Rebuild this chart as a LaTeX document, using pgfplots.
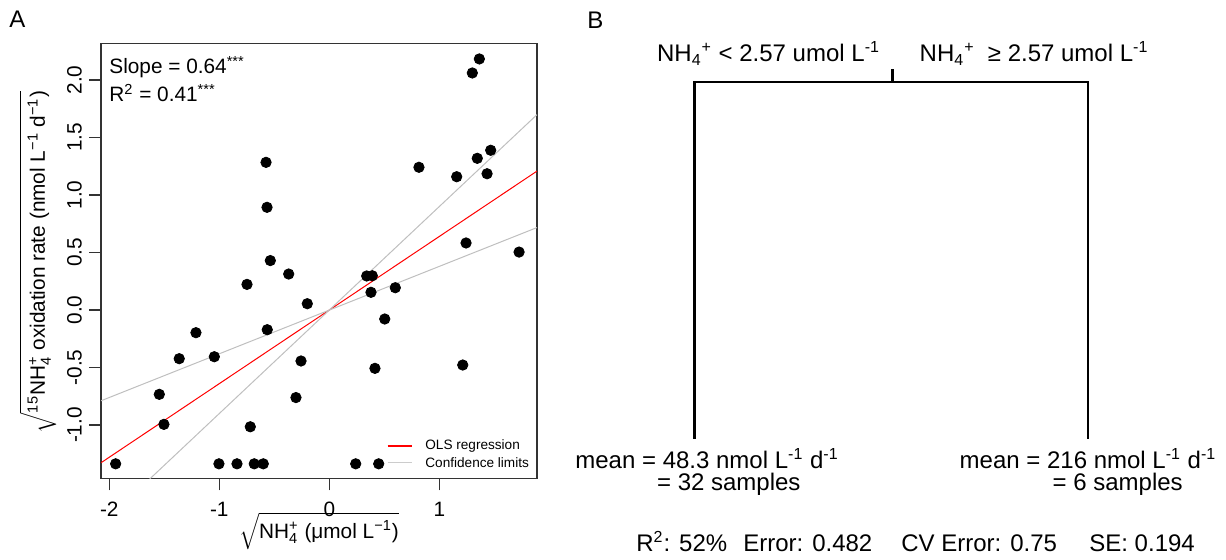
\documentclass[border=0pt]{standalone}
\usepackage{fontspec}
\setmainfont{Liberation Sans}
\usepackage{amsmath}
\usepackage{pgfplots}
\usepackage{pgfplotstable}
\pgfplotsset{compat=1.18}

\pgfplotstableread{
x y
-0.575 1.284
-0.566 0.893
-0.536 0.430
1.364 2.183
1.300 2.061
0.815 1.241
1.158 1.159
1.345 1.319
1.467 1.389
1.434 1.185
1.243 0.583
1.725 0.504
-0.369 0.313
-0.748 0.223
-1.212 -0.197
-0.564 -0.171
-1.364 -0.423
-1.045 -0.406
-1.545 -0.733
-1.503 -0.994
-0.718 -1.015
-1.942 -1.337
-1.003 -1.337
-0.839 -1.337
-0.682 -1.337
-0.600 -1.337
-0.257 -0.443
-0.303 -0.761
0.340 0.296
0.391 0.298
0.379 0.154
0.600 0.194
-0.200 0.055
0.504 -0.078
0.415 -0.507
1.213 -0.478
0.240 -1.337
0.449 -1.337
}\pts

\newcommand{\fA}{\fontsize{10.4}{12.5}\selectfont}
\newcommand{\fB}{\fontsize{12}{14}\selectfont}
\newcommand{\fL}{\fontsize{6.8}{8}\selectfont}

\begin{document}
\begin{tikzpicture}
\useasboundingbox (0,0) rectangle (613pt,279.5pt);
% ---------------- Panel A ----------------
\begin{axis}[
  at={(50.5pt,40.35pt)}, anchor=south west,
  scale only axis, width=218pt, height=217.5pt,
  xmin=-2.075, xmax=1.888, ymin=-1.463, ymax=2.319,
  xtick={-2,-1,0,1},
  ytick={-1,-0.5,0,0.5,1,1.5,2},
  tick align=outside, major tick length=6pt,
  xtick pos=bottom, ytick pos=left,
  axis line style={line width=0.6pt, black!80},
  every tick/.style={line width=0.6pt, black!80},
  /pgf/number format/assume math mode=true,
  tick label style={font=\fA},
  xticklabel style={yshift=-2.5pt},
  yticklabel style={rotate=90, anchor=south,
    /pgf/number format/.cd, fixed, fixed zerofill, precision=1, /tikz/.cd},
]
\addplot[only marks, mark=*, mark size=2.6pt, black] table {\pts};
\addplot[red, line width=0.5pt] coordinates {(-2.075,-1.328) (1.888,1.208)};
\addplot[gray!50, line width=0.5pt] coordinates {(-2.075,-1.8675) (1.888,1.699)};
\addplot[gray!50, line width=0.5pt] coordinates {(-2.075,-0.789) (1.888,0.717)};
\end{axis}
% ---------------- overlay in pixel coordinates / Panel B ----------------
\begin{axis}[
  at={(0pt,0pt)}, anchor=south west,
  scale only axis, width=613pt, height=279.5pt,
  xmin=0, xmax=1226, ymin=0, ymax=559, y dir=reverse,
  hide axis, clip=false,
]
% legend of panel A
\addplot[color=red, line width=0.8pt] coordinates {(387.7,445.7) (412.3,445.7)};
\addplot[color=gray!40, line width=0.8pt] coordinates {(387.7,462.3) (412.3,462.3)};
\node[anchor=west, font=\fL, inner sep=0pt] at (axis cs:425,445.7) {OLS regression};
\node[anchor=west, font=\fL, inner sep=0pt] at (axis cs:425,462.3) {Confidence limits};
% panel A annotations
\node[anchor=base west, font=\fA, inner sep=0pt] at (axis cs:109,73.3) {Slope = 0.64$^{\text{***}}$};
\node[anchor=base west, font=\fA, inner sep=0pt] at (axis cs:109,101.7) {R$^{\text{2}}$ = 0.41$^{\text{***}}$};
\node[anchor=base, font=\fA, inner sep=0pt] at (axis cs:319,538) {$\sqrt{\text{NH$_{\text{4}}^{\text{+}}$ (μmol L$^{\text{−1}}$)}}$};
\node[anchor=base, rotate=90, font=\fA, inner sep=0pt] at (axis cs:45,262) {$\sqrt{\text{$^{\text{15}}$NH$_{\text{4}}^{\text{+}}$ oxidation rate (nmol L$^{\text{−1}}$ d$^{\text{−1}}$)}}$};
% panel letters
\node[anchor=base west, font=\fB, inner sep=0pt] at (axis cs:9,27) {A};
\node[anchor=base west, font=\fB, inner sep=0pt] at (axis cs:587,28) {B};
% tree
\addplot[black, line width=1.2pt] coordinates {(694.3,438.5) (694.3,81.7) (1088,81.7) (1088,439)};
\addplot[black, line width=1.2pt] coordinates {(892.3,69) (892.3,81.7)};
\node[anchor=base west, font=\fB, inner sep=0pt] at (axis cs:656.7,61.7) {NH$_{\text{4}}$$^{\text{+}}$ < 2.57 umol L$^{\text{-1}}$};
\node[anchor=base west, font=\fB, inner sep=0pt] at (axis cs:919.3,61.7) {NH$_{\text{4}}$$^{\text{+}}$\ \ ≥ 2.57 umol L$^{\text{-1}}$};
\node[anchor=base west, font=\fB, inner sep=0pt] at (axis cs:575,468.3) {mean = 48.3 nmol L$^{\text{-1}}$ d$^{\text{-1}}$};
\node[anchor=base west, font=\fB, inner sep=0pt] at (axis cs:656.7,490) {= 32 samples};
\node[anchor=base west, font=\fB, inner sep=0pt] at (axis cs:959.3,468.3) {mean = 216 nmol L$^{\text{-1}}$ d$^{\text{-1}}$};
\node[anchor=base west, font=\fB, inner sep=0pt] at (axis cs:1052.3,490) {= 6 samples};
% summary line
\node[anchor=base west, font=\fB, inner sep=0pt] at (axis cs:636,551) {R$^{\text{2}}$: 52\%};
\node[anchor=base west, font=\fB, inner sep=0pt] at (axis cs:743,551) {Error: 0.482};
\node[anchor=base west, font=\fB, inner sep=0pt] at (axis cs:901,551) {CV Error: 0.75};
\node[anchor=base west, font=\fB, inner sep=0pt] at (axis cs:1089,551) {SE: 0.194};
\end{axis}
\end{tikzpicture}
\end{document}
